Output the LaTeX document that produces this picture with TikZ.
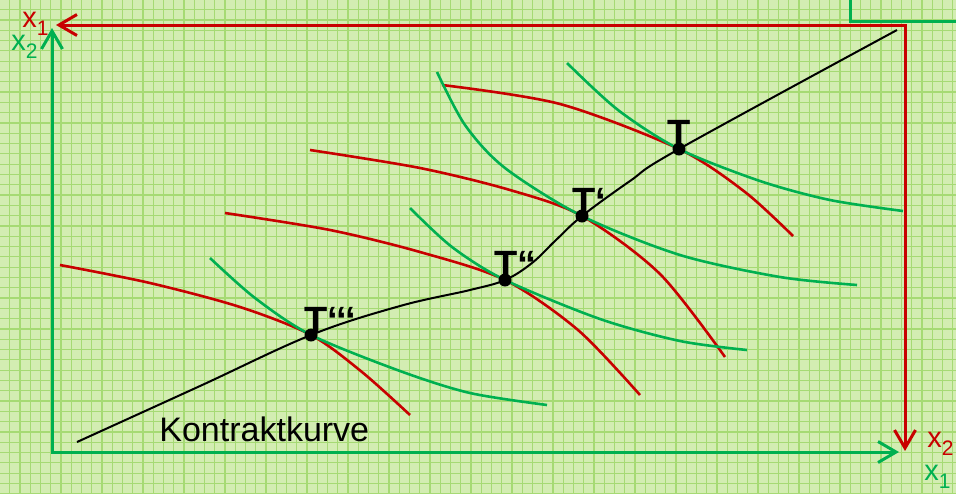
\documentclass[tikz,border=0pt]{standalone}
\usepackage{fontspec}
\setmainfont{Liberation Sans}
\usetikzlibrary{arrows.meta}
\definecolor{bgcol}{HTML}{D3EDB2}
\definecolor{gridcol}{HTML}{A6DA74}
\definecolor{redc}{HTML}{C80000}
\definecolor{greenc}{HTML}{00B050}
\newcommand{\axlab}[1]{x\raisebox{-4pt}{\fontsize{10.5}{12}\selectfont #1}}
\tikzset{
  axisline/.style={line width=1.5pt, line join=miter, arrows={Straight Barb[length=9pt,width=10.5pt,line width=1.5pt]-Straight Barb[length=9pt,width=10.5pt,line width=1.5pt]}},
  redcurve/.style={redc, line width=1.3pt},
  greencurve/.style={greenc, line width=1.3pt},
  contract/.style={black, line width=1pt},
  tpt/.style={circle, fill=black, inner sep=0pt, minimum size=6.5pt},
  tlab/.style={font=\fontsize{19}{22}\selectfont\bfseries, inner sep=0pt, anchor=base west},
  axl/.style={font=\fontsize{14.5}{16}\selectfont, inner sep=0pt, anchor=base west},
}
\begin{document}
\begin{tikzpicture}[x=0.5pt, y=-0.5pt]
\fill[bgcol] (0,0) rectangle (956,494);
\useasboundingbox (0,0) rectangle (956,494);
\foreach \i in {0,...,93} \draw[gridcol, line width=0.6pt] ({\i*10.25-0.5},0) -- ({\i*10.25-0.5},494);
\foreach \j in {0,...,48} \draw[gridcol, line width=0.6pt] (0,{\j*10.3-0.7}) -- (956,{\j*10.3-0.7});

% corner piece top right
\draw[greenc, line width=1.5pt] (850,0) -- (850,21) -- (956,21);

% origins
\coordinate (O1) at (905,25);
\coordinate (O2) at (52,452);
\coordinate (X1end) at (56,25);
\coordinate (X2end) at (905,451);
\coordinate (Y2end) at (52,28);
\coordinate (Y1end) at (899,452);

\draw[axisline, redc] (X1end) -- (O1) -- (X2end);
\draw[axisline, greenc] (Y2end) -- (O2) -- (Y1end);

% tangent points
\coordinate (P4) at (311,335);
\coordinate (P3) at (505,280);
\coordinate (P2) at (582,216);
\coordinate (P1) at (679,149);

% red curves
\draw[redcurve] plot[smooth] coordinates {(60,265) (150,283) (240,307) (311,335) (362,372) (410,415)};
\draw[redcurve] plot[smooth] coordinates {(225,213) (330,230) (420,252) (505,280) (578,330) (640,395)};
\draw[redcurve] plot[smooth] coordinates {(310,150) (420,168) (510,190) (582,216) (660,274) (725,357)};
\draw[redcurve] plot[smooth] coordinates {(442,85) (560,104) (679,149) (745,192) (793,236)};

% green curves
\draw[greencurve] plot[smooth] coordinates {(210,258) (255,298) (311,335) (400,371) (470,393) (547,405)};
\draw[greencurve] plot[smooth] coordinates {(410,208) (452,247) (505,280) (600,319) (680,341) (747,350)};
\draw[greencurve] plot[smooth] coordinates {(437,72) (465,125) (505,168) (582,216) (680,255) (780,277) (857,285)};
\draw[greencurve] plot[smooth] coordinates {(567,63) (618,110) (679,149) (760,181) (830,200) (903,211)};

% contract curve
\draw[contract] plot[smooth, tension=0.6] coordinates {(77,442) (200,386) (311,335) (400,306) (470,290) (505,280) (532,263) (556,240) (582,216) (630,181) (679,149) (897,30)};

% points
\node[tpt] (T4) at (P4) {};
\node[tpt] (T3) at (P3) {};
\node[tpt] (T2) at (P2) {};
\node[tpt] (T1) at (P1) {};

\node[tlab] (L4) at (304,333) {T‘‘‘};
\node[tlab] (L3) at (494,277) {T“};
\node[tlab] (L2) at (572,214) {T‘};
\node[tlab] (L1) at (667,146) {T};

\node[font=\fontsize{17}{20}\selectfont, inner sep=0pt, anchor=base west] (kk) at (159,441) {Kontraktkurve};

% axis labels
\node[axl, text=redc] (lx1r) at (22,27) {\axlab{1}};
\node[axl, text=greenc] (lx2g) at (11,50) {\axlab{2}};
\node[axl, text=redc] (lx2r) at (927,447) {\axlab{2}};
\node[axl, text=greenc] (lx1g) at (924,480) {\axlab{1}};
\end{tikzpicture}
\end{document}
